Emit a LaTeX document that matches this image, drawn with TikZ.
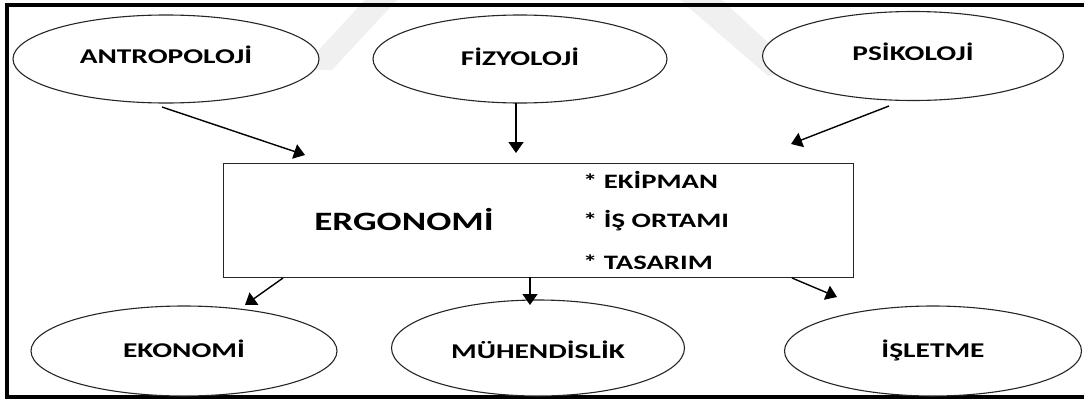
\documentclass[tikz,border=0pt]{standalone}
\usepackage{fontspec}
\setmainfont{Carlito}[FakeStretch=1.4]
\usetikzlibrary{arrows.meta,shapes.geometric}
\begin{document}
\begin{tikzpicture}[x=1pt,y=-1pt,
  oval/.style={ellipse,draw=black!85,line width=1.1pt,fill=white,inner sep=0pt,
    font=\bfseries\fontsize{21}{25}\selectfont,text height=13.5pt,text depth=0pt},
  mainbox/.style={rectangle,draw=black!85,line width=1.1pt,fill=white,inner sep=0pt,anchor=north west},
  item/.style={anchor=west,inner sep=0pt,font=\bfseries\fontsize{20.5}{25}\selectfont,
    text height=13pt,text depth=0pt},
  arr/.style={line width=1.4pt,-{Triangle[length=11pt,width=15pt]}}]
\useasboundingbox (0,0) rectangle (1084,399);
% faint background stripes
\fill[black!6] (300,70) -- (332,70) -- (397,0) -- (365,0) -- cycle;
\fill[black!6] (680,0) -- (722,0) -- (800,72) -- (768,76) -- cycle;
% outer frame
\draw[line width=4pt] (1084,5) -- (6.5,5) -- (6.5,396.5) -- (1084,396.5);
% source disciplines
\node[oval,minimum width=306pt,minimum height=88pt,text height=8pt] (ant) at (166,59) {ANTROPOLOJİ};
\node[oval,minimum width=294pt,minimum height=88pt] (fiz) at (520,59) {FİZYOLOJİ};
\node[oval,minimum width=301pt,minimum height=89pt,text height=9.5pt] (psi) at (913,56) {PSİKOLOJİ};
% central box
\node[mainbox,minimum width=630pt,minimum height=114pt] (box) at (223,163) {};
\node[inner sep=0pt,font=\bfseries\fontsize{26.5}{32}\selectfont,text height=17.5pt,text depth=0pt] (erg) at (404,222) {ERGONOMİ};
\node[item] (i1) at (583,182) {* EKİPMAN};
\node[item] (i2) at (583,221) {* İŞ ORTAMI};
\node[item] (i3) at (583,263) {* TASARIM};
% application fields
\node[oval,minimum width=306pt,minimum height=90pt] (eko) at (184,351) {EKONOMİ};
\node[oval,minimum width=293pt,minimum height=96pt,text height=20pt] (muh) at (538,348) {MÜHENDİSLİK};
\node[oval,minimum width=297pt,minimum height=90pt] (isl) at (933,351) {İŞLETME};
% arrow end points
\coordinate (a1s) at (162,107); \coordinate (a1e) at (305,155);
\coordinate (a2s) at (516,103); \coordinate (a2e) at (516,153);
\coordinate (a3s) at (889,106); \coordinate (a3e) at (791,144);
\coordinate (b1s) at (283,278); \coordinate (b1e) at (245,305);
\coordinate (b2s) at (530,277); \coordinate (b2e) at (530,305);
\coordinate (b3s) at (792,278); \coordinate (b3e) at (837,297);
\draw[arr] (a1s) -- (a1e);
\draw[arr] (a2s) -- (a2e);
\draw[arr] (a3s) -- (a3e);
\draw[arr] (b1s) -- (b1e);
\draw[arr] (b2s) -- (b2e);
\draw[arr] (b3s) -- (b3e);
\end{tikzpicture}
\end{document}
